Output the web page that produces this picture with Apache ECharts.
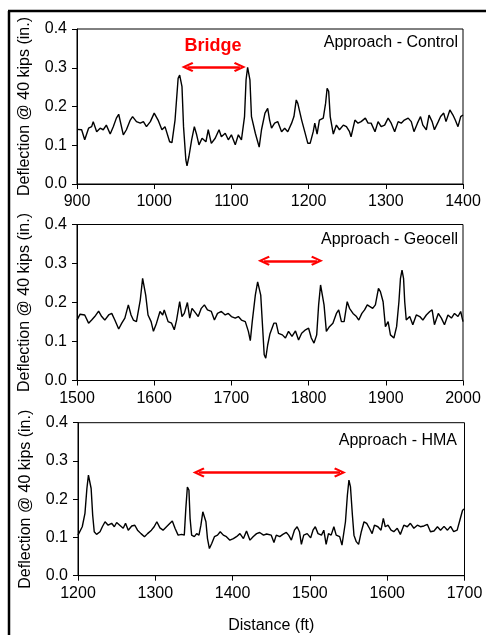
<!DOCTYPE html>
<html>
<head>
<meta charset="utf-8">
<script src="https://cdn.jsdelivr.net/npm/echarts@6/dist/echarts.min.js"></script>
<style>
html,body{margin:0;padding:0;background:#fff;}
#c{width:486px;height:635px;}
</style>
</head>
<body>
<div id="c"></div>
<script>
// ---- Panel 1: Approach - Control ----
var dist1 = [900,906,910,915,919,921,925.5,930,934,938,943,947,951,954,960,964,969,972,977,982,986,990,995,1000,1005,1010,1014,1020,1023,1027,1031,1033,1036,1038,1041,1042.5,1045,1048.5,1052,1055,1058,1062,1067,1070,1074,1079,1084,1087,1092,1096,1100,1105,1109,1113,1117,1119,1121,1124,1126,1131,1136,1139,1143.5,1147,1149.5,1152,1156,1160,1165,1169,1173,1178,1181,1184,1186,1191,1195,1199,1202,1206,1208,1211,1214,1219,1222,1224,1226,1228,1232,1236,1240,1245,1249,1253,1255,1260,1264,1268,1273.5,1277,1281,1286,1290,1294,1298.5,1303,1307,1311.5,1316,1320,1324,1329,1333,1336.5,1341,1345,1348,1352.5,1356,1360,1363,1368,1371,1375,1378,1383,1387,1390,1393.5,1397,1400];
var defl1 = [.141,.140,.114,.144,.148,.161,.135,.144,.140,.152,.129,.148,.170,.180,.127,.140,.165,.174,.161,.157,.161,.148,.161,.183,.165,.140,.148,.109,.107,.165,.273,.281,.251,.148,.062,.047,.071,.114,.148,.127,.101,.118,.109,.140,.105,.118,.140,.122,.131,.114,.127,.101,.127,.114,.174,.269,.301,.269,.174,.131,.095,.140,.183,.195,.165,.144,.157,.161,.135,.144,.135,.157,.174,.217,.208,.165,.135,.105,.105,.135,.157,.129,.165,.170,.208,.247,.239,.174,.129,.152,.140,.152,.148,.135,.122,.165,.157,.161,.170,.157,.157,.135,.161,.148,.152,.170,.157,.135,.161,.157,.165,.170,.161,.135,.157,.174,.152,.140,.178,.161,.140,.161,.174,.183,.161,.191,.178,.165,.148,.174,.178];

// ---- Panel 2: Approach - Geocell ----
var dist2 = [1500,1504,1510,1515,1519,1523,1528,1532,1536,1541,1545,1549,1554,1558,1562,1566.5,1570,1573,1577,1582,1585,1587,1589,1592,1596,1599,1603,1607.5,1611,1613,1618,1622.5,1626,1629,1633,1636,1639,1643,1646,1649,1654,1657,1661,1665,1669,1674,1678,1682,1687,1692,1696,1700,1705,1709,1713,1718,1722,1724.5,1727,1731,1734,1736,1738,1740.5,1742.5,1744.5,1747,1750,1752,1755,1758,1761,1766,1770,1774,1778.5,1783,1787,1791,1796,1800,1803.5,1807,1810.5,1813,1815.5,1818,1820,1823,1827,1831.5,1836,1839,1842.5,1846,1850,1853,1857.5,1862,1865,1869,1872.5,1876,1879,1883,1886.5,1890.5,1893,1896.5,1899.5,1903,1906,1910.5,1914,1917,1919,1921,1923,1924.5,1926.5,1931,1935,1939.5,1944,1948,1952.5,1957,1960,1963,1968,1972,1976,1980.5,1985,1989,1993.5,1997,2000];
var defl2 = [.155,.170,.168,.147,.155,.164,.178,.164,.155,.168,.172,.155,.132,.147,.160,.194,.168,.155,.151,.207,.262,.262,.219,.168,.151,.126,.147,.177,.168,.181,.151,.147,.130,.155,.202,.164,.172,.200,.160,.185,.172,.164,.185,.194,.181,.177,.155,.172,.177,.168,.172,.164,.160,.164,.155,.151,.126,.102,.151,.219,.253,.258,.219,.134,.066,.057,.091,.120,.121,.147,.147,.121,.117,.109,.126,.113,.127,.104,.121,.130,.134,.109,.096,.117,.194,.245,.241,.194,.126,.138,.147,.172,.181,.151,.151,.202,.185,.172,.164,.155,.172,.181,.194,.190,.185,.194,.236,.228,.202,.138,.151,.117,.109,.138,.202,.262,.283,.262,.202,.155,.164,.143,.168,.164,.155,.168,.177,.181,.143,.172,.160,.143,.168,.160,.172,.164,.177,.151];

// ---- Panel 3: Approach - HMA ----
var dist3 = [1200,1202,1205.5,1209,1211.5,1213.5,1215,1217,1219,1221,1224,1228.5,1231.5,1235,1239,1243.5,1247,1250,1254,1258.5,1261.5,1265,1269.5,1273.5,1277,1281.5,1286,1290,1295,1298.5,1302,1306,1310,1314.5,1319,1322,1325.5,1329.5,1334,1337.5,1339.5,1341.5,1343.5,1345,1347,1350.5,1353.5,1356.5,1359,1361.5,1363,1365.5,1367.5,1370,1373,1376.5,1380.5,1384,1388,1392,1396.5,1401,1405,1409.5,1414,1418,1422.5,1426.5,1431,1435,1440,1444,1446,1450,1453.5,1456.5,1461,1465,1469.5,1472.5,1476,1480,1483.5,1486.5,1489,1492,1496.5,1501,1504,1507,1510.5,1515,1518,1521,1524,1527.5,1531,1534,1538.5,1541.5,1544,1546,1548.5,1550.5,1552.5,1555,1557,1560,1563,1566.5,1570,1573.5,1577,1580.5,1583.5,1588,1592,1595,1597.5,1601,1605,1608.5,1613,1617,1621.5,1626,1630,1634.5,1639,1643,1647.5,1652,1656,1660.5,1665,1669,1673.5,1678,1682,1686,1690.5,1694,1697.5,1700];
var defl3 = [.106,.110,.128,.163,.228,.263,.263,.228,.158,.115,.108,.115,.128,.141,.132,.137,.128,.139,.132,.124,.137,.119,.130,.132,.119,.110,.102,.110,.119,.128,.141,.125,.119,.128,.137,.143,.124,.106,.108,.106,.176,.232,.224,.150,.106,.102,.110,.106,.132,.167,.171,.141,.097,.071,.084,.102,.106,.115,.106,.102,.093,.097,.102,.110,.097,.117,.093,.102,.110,.113,.106,.109,.110,.106,.087,.106,.102,.108,.113,.106,.093,.119,.128,.115,.082,.106,.110,.099,.119,.128,.110,.106,.119,.082,.110,.106,.128,.106,.102,.080,.076,.141,.211,.250,.232,.158,.106,.089,.082,.115,.141,.137,.124,.110,.132,.128,.119,.150,.128,.132,.119,.115,.124,.108,.132,.128,.137,.124,.132,.128,.130,.134,.115,.117,.128,.119,.129,.119,.129,.115,.119,.145,.171,.175];

var panelTitles = ['Approach - Control', 'Approach - Geocell', 'Approach - HMA'];
var xRanges = [[900,1400],[1500,2000],[1200,1700]];
var yTicks = [0, 0.1, 0.2, 0.3, 0.4];
// double arrows: [x1, x2, y]
var arrows = [[1043, 1111, 0.302], [1742, 1811, 0.307], [1356, 1539, 0.27]];

var FONT = 'Liberation Sans, Arial, sans-serif';
var grids = [
  {left: 77, top: 29, width: 386, height: 155},
  {left: 77, top: 224.5, width: 386, height: 156},
  {left: 78, top: 422.7, width: 386.5, height: 153}
];
var datasets = [[dist1, defl1], [dist2, defl2], [dist3, defl3]];

function pairs(xs, ys) { return xs.map(function (x, i) { return [x, ys[i]]; }); }

var chevron = 'path://M5,0 L10,9 L8.2,10 L5,4 L1.8,10 L0,9 Z';

var option = {
  animation: false,
  textStyle: {fontFamily: FONT},
  grid: grids.map(function (g) {
    return Object.assign({show: true, borderColor: '#000', borderWidth: 1, backgroundColor: 'transparent'}, g);
  }),
  xAxis: xRanges.map(function (r, i) {
    return {
      type: 'value', gridIndex: i, min: r[0], max: r[1], interval: 100,
      axisLine: {show: true, onZero: false, lineStyle: {color: '#000', width: 1}},
      axisTick: {show: true, inside: false, length: 5, lineStyle: {color: '#000'}},
      splitLine: {show: false},
      axisLabel: {color: '#000', fontSize: 16, fontFamily: FONT, margin: 10,
        formatter: function (v) { return String(v); }},
      name: i === 2 ? 'Distance (ft)' : '',
      nameLocation: 'middle', nameGap: 42,
      nameTextStyle: {color: '#000', fontSize: 16, fontFamily: FONT}
    };
  }),
  yAxis: xRanges.map(function (r, i) {
    return {
      type: 'value', gridIndex: i, min: yTicks[0], max: yTicks[yTicks.length - 1], interval: 0.1,
      axisLine: {show: true, lineStyle: {color: '#000', width: 1}},
      axisTick: {show: true, inside: false, length: 5, lineStyle: {color: '#000'}},
      splitLine: {show: false},
      axisLabel: {color: '#000', fontSize: 16, fontFamily: FONT, margin: 10,
        formatter: function (v) { return v.toFixed(1); }},
      name: 'Deflection @ 40 kips (in.)',
      nameLocation: 'middle', nameRotate: 90, nameGap: 44,
      nameTextStyle: {color: '#000', fontSize: 16, fontFamily: FONT}
    };
  }),
  title: [
    {text: panelTitles[0], right: 28, top: 35},
    {text: panelTitles[1], right: 28, top: 231.5},
    {text: panelTitles[2], right: 29, top: 432.5},
    {text: 'Bridge', left: 213, top: 37, textAlign: 'center',
     textStyle: {color: '#ff0000', fontSize: 18, fontWeight: 'bold', fontFamily: FONT}}
  ].map(function (t, i) {
    if (i < 3) t.textStyle = {color: '#000', fontSize: 16, fontWeight: 'normal', fontFamily: FONT};
    t.padding = 0;
    return t;
  }),
  graphic: [
    {type: 'line', shape: {x1: 9, y1: 11, x2: 9, y2: 640}, style: {stroke: '#000', lineWidth: 2.5}},
    {type: 'line', shape: {x1: 8, y1: 11, x2: 490, y2: 11}, style: {stroke: '#000', lineWidth: 2.5}}
  ],
  series: datasets.map(function (d, i) {
    return {
      type: 'line', xAxisIndex: i, yAxisIndex: i,
      data: pairs(d[0], d[1]),
      showSymbol: false, symbol: 'none',
      lineStyle: {color: '#000', width: 1.4},
      silent: true,
      markLine: {
        silent: true,
        symbol: [chevron, chevron],
        symbolSize: [10, 12],
        label: {show: false},
        lineStyle: {color: '#ff0000', width: 2.5, type: 'solid'},
        data: [[{coord: [arrows[i][0], arrows[i][2]]}, {coord: [arrows[i][1], arrows[i][2]]}]]
      }
    };
  })
};

var chart = echarts.init(document.getElementById('c'), null, {renderer: 'canvas'});
chart.setOption(option);
</script>
</body>
</html>
